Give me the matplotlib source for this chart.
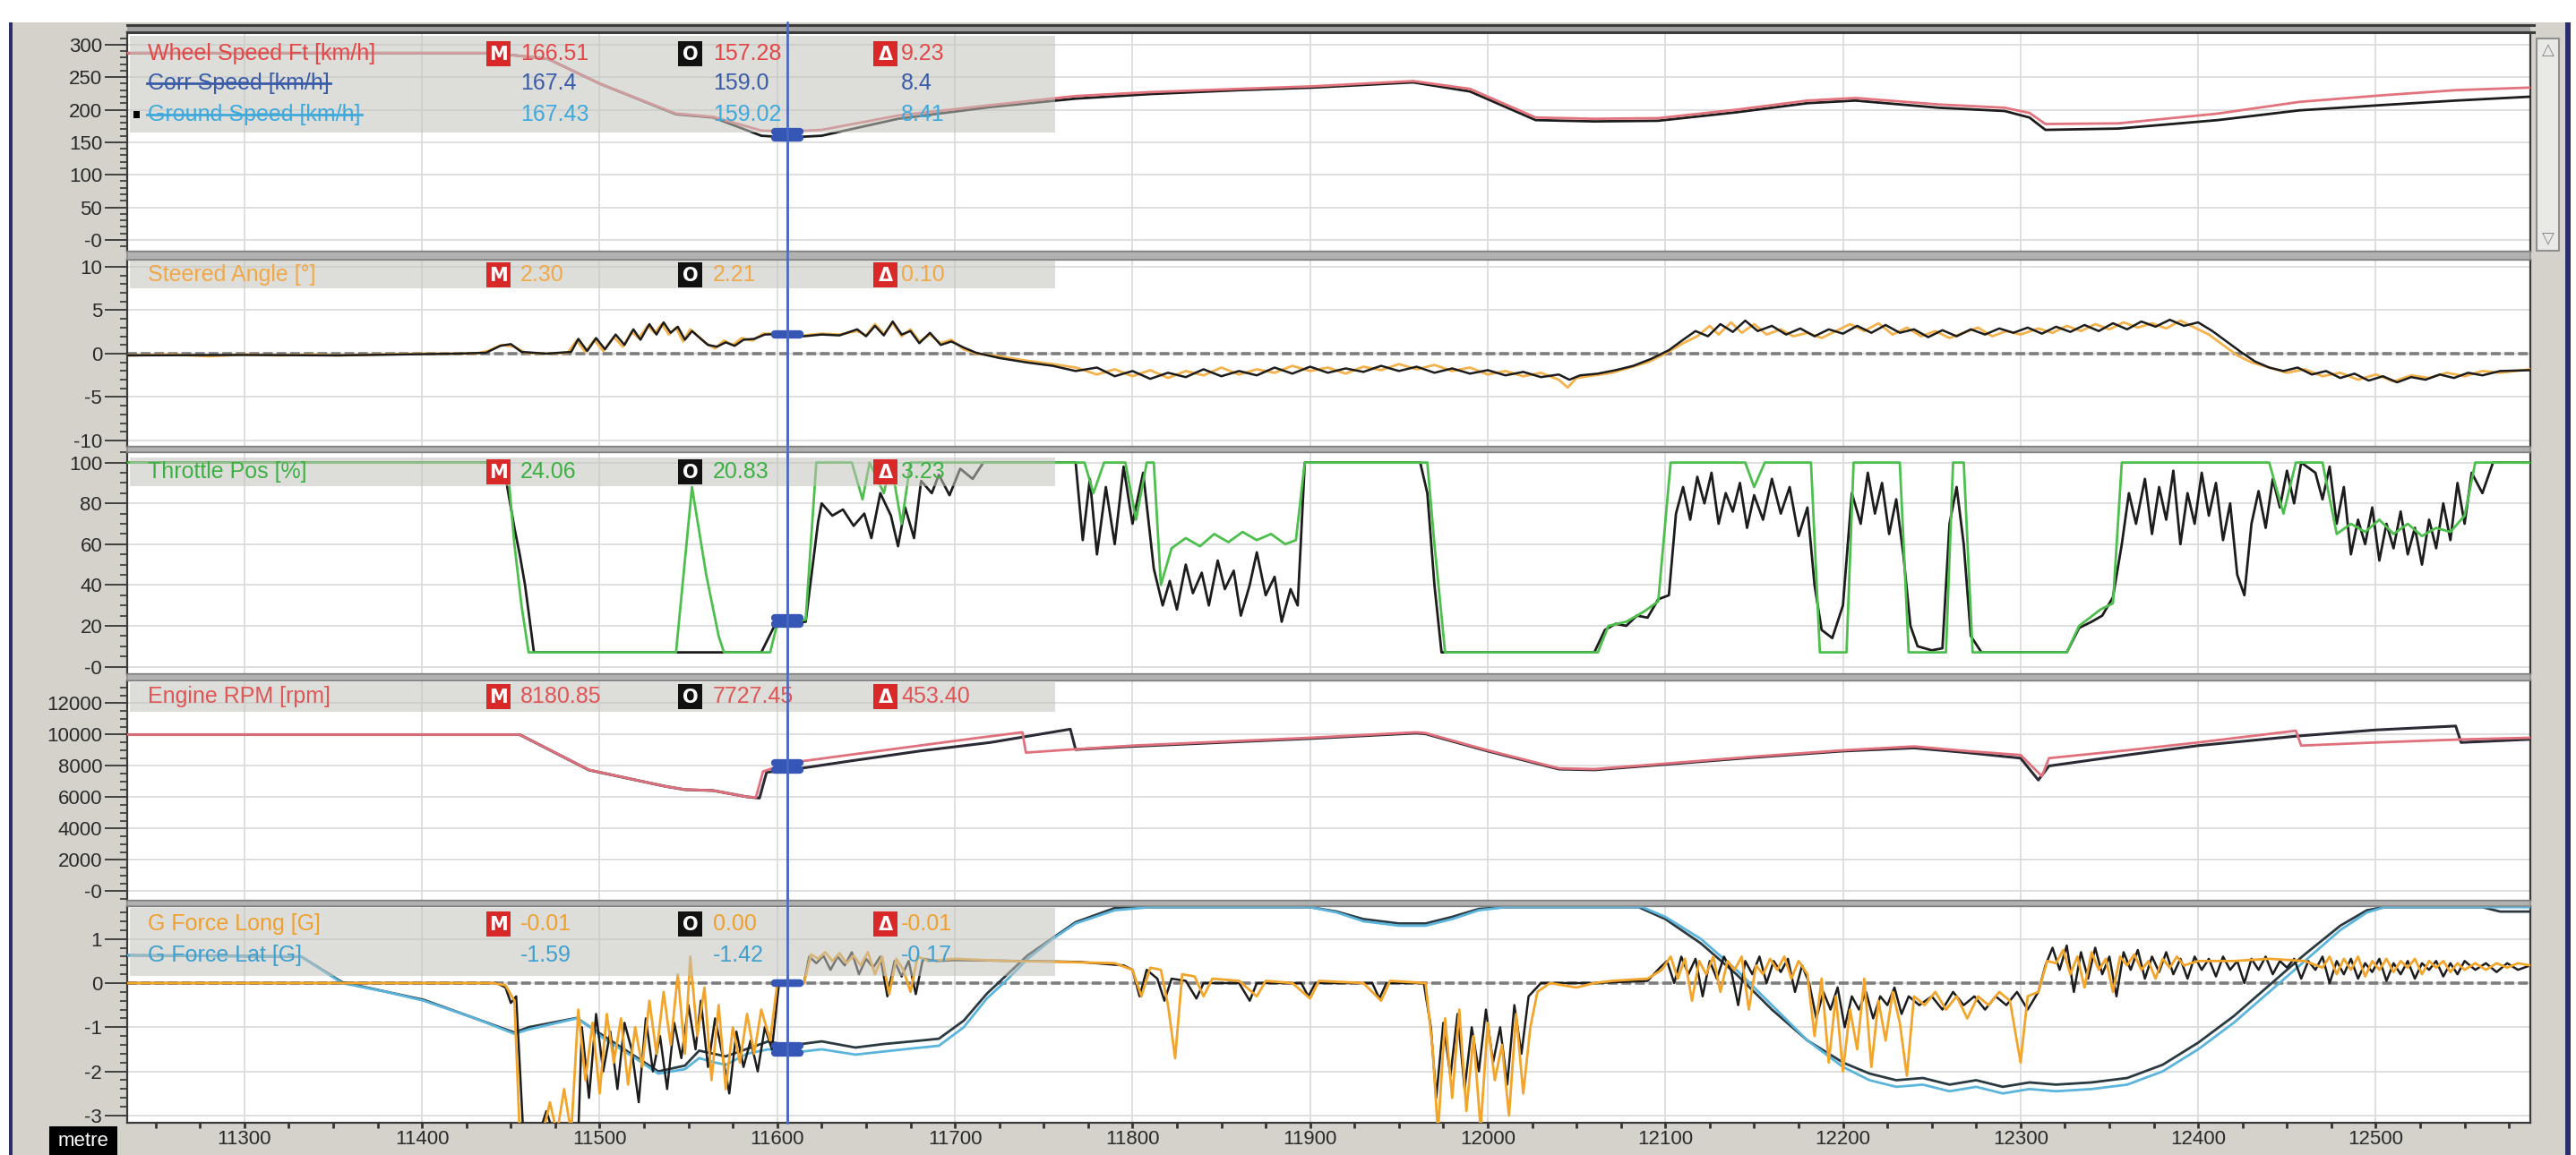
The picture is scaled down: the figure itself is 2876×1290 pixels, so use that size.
import matplotlib
matplotlib.use('Agg')
import matplotlib.pyplot as plt
from matplotlib import font_manager
from matplotlib.patches import Rectangle
from matplotlib.lines import Line2D
from matplotlib.transforms import Affine2D
from matplotlib.ticker import MultipleLocator, FixedLocator, FixedFormatter

# ---------------- DATA (distance in metres) ----------------
cursor_x = 11605.6

speed_x = [11234, 11440, 11471, 11500, 11543, 11564, 11591, 11606, 11625, 11668, 11720, 11768, 11810,
           11860, 11902, 11958, 11990, 12027, 12060, 12096, 12140, 12180, 12207, 12254, 12291, 12305,
           12314, 12355, 12411, 12457, 12503, 12545, 12587]
speed_main = [287, 287, 278, 240, 194, 189, 168, 166.5, 169, 191, 207, 221, 227, 232, 236, 244, 232, 188,
              186, 187, 200, 214, 218, 208, 203, 195, 178, 179, 194, 212, 222, 230, 234]
speed_ref = [287, 287, 278, 240, 193, 188, 160, 157.3, 160, 186, 204, 217, 224, 230, 234, 242, 228, 184,
             182, 183, 196, 210, 214, 203, 198, 188, 169, 171, 184, 199, 207, 214, 220]

steer_main = [(11234, -0.2), (11260, -0.1), (11280, -0.3), (11300, -0.1), (11320, -0.2), (11340, -0.1),
              (11352, -0.2), (11400, 0), (11430, 0), (11437, 0.3), (11445, 1.0), (11452, 0.8), (11458, 0.1),
              (11470, 0), (11482, 0.1), (11487, 1.5), (11492, 0.2), (11497, 1.6), (11502, 0.3), (11508, 1.9),
              (11513, 0.8), (11518, 2.5), (11522, 1.8), (11527, 3.2), (11531, 2.4), (11535, 3.4), (11539, 2.2),
              (11543, 3.0), (11547, 1.4), (11551, 2.8), (11556, 1.9), (11560, 1.2), (11565, 0.6), (11570, 1.5),
              (11575, 1.0), (11580, 1.8), (11586, 1.5), (11592, 2.3), (11600, 2.3), (11606, 2.3), (11615, 2.1),
              (11625, 2.3), (11635, 2.2), (11645, 2.6), (11650, 2.1), (11655, 3.4), (11660, 2.3), (11665, 3.5),
              (11670, 2.0), (11675, 2.8), (11680, 1.4), (11686, 2.2), (11692, 1.2), (11698, 1.6), (11705, 0.5),
              (11712, 0.0), (11725, -0.3), (11740, -0.8), (11755, -1.2), (11768, -1.6), (11780, -2.4),
              (11790, -1.8), (11800, -2.6), (11810, -1.9), (11820, -2.8), (11830, -2.0), (11840, -2.5),
              (11850, -1.6), (11860, -2.4), (11870, -1.8), (11880, -2.2), (11890, -1.4), (11900, -2.0),
              (11910, -1.6), (11920, -2.3), (11930, -1.5), (11940, -1.9), (11950, -1.2), (11960, -1.8),
              (11970, -1.3), (11980, -2.0), (11990, -1.6), (12000, -2.4), (12010, -2.0), (12020, -2.6),
              (12030, -2.2), (12040, -3.0), (12045, -3.9), (12050, -2.8), (12060, -2.5), (12070, -2.2),
              (12080, -1.6), (12090, -1.0), (12100, 0.0), (12110, 1.2), (12118, 2.0), (12125, 3.2), (12130, 2.2),
              (12137, 3.6), (12143, 2.4), (12150, 3.4), (12157, 2.2), (12165, 2.8), (12172, 2.0), (12180, 2.4),
              (12188, 1.8), (12196, 2.6), (12204, 3.4), (12212, 2.6), (12220, 3.5), (12228, 2.2), (12236, 3.0),
              (12244, 2.0), (12252, 2.6), (12260, 1.8), (12268, 2.4), (12276, 3.0), (12284, 2.0), (12292, 2.6),
              (12300, 2.2), (12310, 2.9), (12318, 2.4), (12326, 3.2), (12334, 2.6), (12342, 3.4), (12350, 2.8),
              (12358, 3.6), (12366, 3.0), (12374, 3.5), (12382, 2.9), (12390, 3.8), (12398, 3.0), (12406, 2.2),
              (12414, 1.0), (12422, -0.2), (12430, -1.0), (12440, -1.6), (12450, -2.2), (12460, -1.8),
              (12470, -2.6), (12480, -2.2), (12490, -3.0), (12500, -2.4), (12510, -3.2), (12520, -2.5),
              (12530, -2.8), (12540, -2.2), (12550, -2.6), (12560, -2.0), (12570, -2.2), (12587, -1.8)]

steer_ref = [(11234, -0.2), (11300, -0.15), (11352, -0.2), (11420, 0), (11436, 0.1), (11444, 0.9), (11450, 1.1),
             (11456, 0.2), (11470, 0), (11484, 0.2), (11488, 1.7), (11493, 0.3), (11498, 1.8), (11503, 0.5),
             (11509, 2.2), (11514, 1.0), (11519, 2.8), (11523, 1.6), (11528, 3.4), (11532, 2.2), (11536, 3.6),
             (11540, 2.4), (11544, 3.1), (11548, 1.6), (11552, 2.6), (11557, 1.7), (11561, 1.0), (11566, 0.8),
             (11571, 1.3), (11576, 0.9), (11581, 1.6), (11587, 1.7), (11593, 2.2), (11600, 2.25), (11606, 2.21),
             (11615, 2.0), (11625, 2.2), (11635, 2.1), (11645, 2.8), (11650, 2.0), (11655, 3.2), (11660, 2.1),
             (11665, 3.7), (11670, 2.2), (11675, 2.6), (11680, 1.2), (11686, 2.4), (11692, 1.0), (11698, 1.4),
             (11705, 0.7), (11712, 0.1), (11725, -0.5), (11740, -1.0), (11755, -1.4), (11768, -2.0),
             (11780, -1.6), (11790, -2.6), (11800, -2.0), (11810, -2.9), (11820, -2.2), (11830, -2.7),
             (11840, -1.8), (11850, -2.6), (11860, -2.0), (11870, -2.5), (11880, -1.6), (11890, -2.3),
             (11900, -1.5), (11910, -2.2), (11920, -1.7), (11930, -2.1), (11940, -1.4), (11950, -2.0),
             (11960, -1.5), (11970, -2.2), (11980, -1.7), (11990, -2.3), (12000, -1.9), (12010, -2.5),
             (12020, -2.1), (12030, -2.7), (12040, -2.4), (12046, -3.0), (12052, -2.5), (12062, -2.3),
             (12072, -1.9), (12082, -1.4), (12092, -0.6), (12102, 0.4), (12110, 1.6), (12117, 2.6), (12124, 2.0),
             (12131, 3.4), (12138, 2.5), (12145, 3.8), (12152, 2.6), (12160, 3.2), (12168, 2.2), (12176, 2.9),
             (12184, 2.0), (12192, 2.8), (12200, 2.3), (12208, 3.2), (12216, 2.4), (12224, 3.3), (12232, 2.4),
             (12240, 2.8), (12248, 1.9), (12256, 2.7), (12264, 2.0), (12272, 2.8), (12280, 2.2), (12288, 2.9),
             (12296, 2.4), (12304, 3.0), (12312, 2.3), (12320, 3.1), (12328, 2.5), (12336, 3.3), (12344, 2.6),
             (12352, 3.5), (12360, 2.8), (12368, 3.7), (12376, 3.1), (12384, 3.9), (12392, 3.2), (12400, 3.6),
             (12408, 2.6), (12416, 1.4), (12424, 0.2), (12432, -0.9), (12440, -1.6), (12448, -2.0),
             (12456, -1.6), (12464, -2.4), (12472, -2.0), (12480, -2.8), (12488, -2.3), (12496, -3.1),
             (12504, -2.6), (12512, -3.3), (12520, -2.7), (12528, -3.0), (12536, -2.4), (12544, -2.8),
             (12552, -2.2), (12560, -2.5), (12570, -2.0), (12587, -1.9)]

throttle_main = [(11234, 100), (11448, 100), (11452, 60), (11456, 30), (11460, 7), (11543, 7), (11552, 88),
                 (11560, 45), (11567, 15), (11570, 7), (11596, 7), (11600, 21), (11616, 23), (11622, 100),
                 (11642, 100), (11648, 82), (11652, 100), (11660, 85), (11664, 100), (11670, 70), (11675, 100),
                 (11773, 100), (11778, 85), (11784, 100), (11796, 100), (11802, 72), (11808, 100), (11812, 100),
                 (11816, 40), (11822, 58), (11830, 63), (11838, 59), (11846, 65), (11854, 61), (11862, 66),
                 (11870, 62), (11878, 65), (11886, 60), (11892, 62), (11897, 100), (11966, 100), (11970, 60),
                 (11976, 7), (12062, 7), (12068, 20), (12078, 22), (12088, 27), (12096, 32), (12103, 100),
                 (12145, 100), (12150, 88), (12156, 100), (12182, 100), (12187, 7), (12202, 7), (12206, 100),
                 (12232, 100), (12237, 7), (12258, 7), (12262, 100), (12268, 100), (12273, 7), (12326, 7),
                 (12333, 20), (12345, 28), (12352, 31), (12357, 100), (12440, 100), (12448, 75), (12455, 100),
                 (12470, 100), (12478, 65), (12486, 70), (12494, 66), (12502, 72), (12510, 65), (12518, 70),
                 (12526, 64), (12534, 68), (12542, 66), (12550, 74), (12556, 100), (12587, 100)]

throttle_ref = [(11234, 100), (11446, 100), (11448, 88), (11452, 68), (11455, 55), (11458, 40), (11463, 7),
                (11591, 7), (11599, 21), (11616, 22), (11623, 71), (11625, 80), (11631, 74), (11637, 77),
                (11643, 69), (11649, 75), (11653, 63), (11658, 85), (11664, 74), (11668, 59), (11672, 78),
                (11677, 63), (11681, 91), (11687, 85), (11691, 94), (11697, 84), (11703, 97), (11710, 92),
                (11716, 100), (11768, 100), (11772, 62), (11776, 92), (11780, 55), (11785, 88), (11790, 60),
                (11795, 98), (11800, 70), (11806, 95), (11812, 48), (11817, 30), (11821, 42), (11825, 28),
                (11830, 50), (11834, 36), (11839, 46), (11843, 30), (11848, 52), (11852, 38), (11857, 47),
                (11861, 25), (11866, 40), (11870, 56), (11875, 35), (11880, 44), (11884, 22), (11889, 38),
                (11893, 30), (11897, 100), (11962, 100), (11966, 85), (11970, 40), (11974, 7), (12060, 7),
                (12066, 18), (12072, 21), (12078, 20), (12084, 25), (12090, 24), (12096, 33), (12102, 35),
                (12106, 75), (12110, 88), (12114, 72), (12118, 93), (12122, 80), (12126, 95), (12130, 70),
                (12134, 85), (12138, 76), (12142, 90), (12146, 68), (12150, 84), (12155, 72), (12160, 92),
                (12165, 75), (12170, 88), (12175, 64), (12180, 78), (12184, 40), (12188, 18), (12194, 14),
                (12200, 30), (12205, 85), (12210, 70), (12214, 95), (12218, 75), (12222, 90), (12226, 65),
                (12230, 82), (12234, 55), (12238, 20), (12242, 10), (12250, 8), (12256, 9), (12260, 70),
                (12264, 88), (12268, 60), (12272, 15), (12278, 7), (12326, 7), (12333, 19), (12340, 22),
                (12346, 25), (12352, 34), (12357, 60), (12361, 85), (12365, 70), (12370, 92), (12374, 65),
                (12378, 88), (12382, 72), (12386, 96), (12390, 60), (12394, 85), (12398, 70), (12402, 95),
                (12406, 74), (12410, 90), (12414, 62), (12418, 80), (12422, 45), (12426, 35), (12430, 70),
                (12434, 86), (12438, 68), (12442, 92), (12446, 78), (12450, 96), (12454, 80), (12458, 100),
                (12466, 95), (12470, 82), (12474, 98), (12478, 70), (12482, 88), (12486, 55), (12490, 72),
                (12494, 60), (12498, 78), (12502, 52), (12506, 70), (12510, 58), (12514, 76), (12518, 55),
                (12522, 68), (12526, 50), (12530, 72), (12534, 58), (12538, 80), (12542, 62), (12546, 90),
                (12550, 70), (12554, 95), (12560, 85), (12566, 100), (12587, 100)]

rpm_main = [(11234, 10000), (11455, 10000), (11494, 7750), (11537, 6700), (11548, 6500), (11564, 6430),
            (11583, 6030), (11588, 6000), (11592, 7650), (11606, 8180), (11640, 8700), (11680, 9300),
            (11710, 9750), (11738, 10150), (11740, 8850), (11765, 9050), (11800, 9300), (11850, 9550),
            (11900, 9800), (11960, 10150), (11965, 10100), (12000, 9000), (12040, 7850), (12060, 7800),
            (12100, 8150), (12150, 8600), (12200, 9000), (12240, 9250), (12270, 8950), (12300, 8700),
            (12312, 7350), (12316, 8500), (12360, 9000), (12400, 9500), (12455, 10250), (12458, 9300),
            (12500, 9500), (12550, 9700), (12587, 9800)]
rpm_ref = [(11234, 10000), (11455, 10000), (11494, 7740), (11537, 6700), (11548, 6490), (11564, 6430),
           (11583, 6030), (11590, 5950), (11594, 7600), (11606, 7727), (11640, 8300), (11680, 8950),
           (11720, 9500), (11765, 10350), (11768, 9050), (11800, 9250), (11850, 9500), (11900, 9750),
           (11960, 10100), (11965, 10050), (12000, 8950), (12040, 7800), (12060, 7750), (12100, 8100),
           (12150, 8550), (12200, 8950), (12240, 9150), (12270, 8850), (12300, 8500), (12310, 7100),
           (12316, 8000), (12360, 8700), (12400, 9300), (12455, 9900), (12500, 10300), (12545, 10550),
           (12548, 9500), (12587, 9700)]

glat_main = [(11234, 0.63), (11332, 0.6), (11355, 0.0), (11380, -0.2), (11401, -0.4), (11430, -0.8),
             (11452, -1.15), (11460, -1.05), (11487, -0.8), (11495, -1.0), (11502, -1.25), (11520, -1.7),
             (11533, -2.05), (11548, -1.95), (11556, -1.7), (11565, -1.8), (11571, -1.85), (11583, -1.6),
             (11595, -1.5), (11606, -1.59), (11625, -1.5), (11644, -1.62), (11660, -1.55), (11676, -1.48),
             (11691, -1.42), (11705, -1.0), (11718, -0.35), (11730, 0.1), (11741, 0.55), (11755, 1.0),
             (11768, 1.35), (11790, 1.65), (11810, 1.72), (11900, 1.72), (11915, 1.6), (11930, 1.4),
             (11950, 1.3), (11965, 1.3), (11980, 1.45), (11995, 1.65), (12010, 1.72), (12087, 1.72),
             (12100, 1.5), (12120, 1.0), (12140, 0.3), (12160, -0.5), (12180, -1.3), (12200, -1.9),
             (12215, -2.2), (12230, -2.35), (12245, -2.3), (12260, -2.45), (12275, -2.35), (12290, -2.5),
             (12305, -2.4), (12320, -2.45), (12340, -2.4), (12360, -2.3), (12380, -2.0), (12400, -1.5),
             (12420, -0.9), (12440, -0.2), (12460, 0.5), (12480, 1.2), (12495, 1.6), (12505, 1.72), (12587, 1.72)]
glat_ref = [(11234, 0.63), (11332, 0.6), (11355, 0.02), (11401, -0.38), (11452, -1.12), (11460, -1.0),
            (11487, -0.79), (11502, -1.19), (11533, -2.0), (11548, -1.87), (11556, -1.53), (11571, -1.66),
            (11595, -1.32), (11606, -1.42), (11625, -1.32), (11644, -1.46), (11660, -1.38), (11676, -1.32),
            (11691, -1.26), (11705, -0.85), (11718, -0.24), (11741, 0.63), (11768, 1.38), (11790, 1.7),
            (11810, 1.72), (11900, 1.72), (11915, 1.62), (11930, 1.45), (11950, 1.35), (11965, 1.35),
            (11980, 1.5), (11995, 1.68), (12010, 1.72), (12085, 1.72), (12100, 1.45), (12120, 0.9),
            (12140, 0.2), (12160, -0.6), (12180, -1.3), (12200, -1.8), (12215, -2.05), (12230, -2.2),
            (12245, -2.15), (12260, -2.3), (12275, -2.2), (12290, -2.35), (12305, -2.25), (12320, -2.3),
            (12340, -2.25), (12360, -2.15), (12380, -1.85), (12400, -1.35), (12420, -0.75), (12440, -0.05),
            (12460, 0.65), (12480, 1.3), (12495, 1.65), (12505, 1.72), (12560, 1.72), (12570, 1.62),
            (12587, 1.62)]

glong_main = [(11234, 0), (11440, 0), (11447, -0.05), (11452, -0.4), (11455, -3.4), (11468, -3.4), (11472, -2.7),
              (11476, -3.4), (11480, -2.4), (11484, -3.4), (11488, -0.6), (11492, -2.2), (11496, -0.9),
              (11500, -2.5), (11504, -0.7), (11508, -1.8), (11512, -0.8), (11516, -2.3), (11520, -1.0),
              (11524, -1.9), (11528, -0.4), (11532, -1.6), (11536, -0.2), (11540, -1.4), (11544, 0.2),
              (11548, -1.6), (11551, 0.6), (11555, -1.2), (11559, -0.1), (11563, -2.2), (11567, -0.5),
              (11571, -2.4), (11575, -1.0), (11579, -1.8), (11583, -0.7), (11587, -1.6), (11591, -0.6),
              (11596, -1.3), (11600, -0.01), (11615, -0.01), (11619, 0.65), (11623, 0.55), (11627, 0.7),
              (11631, 0.5), (11635, 0.68), (11639, 0.45), (11643, 0.62), (11647, 0.4), (11651, 0.7),
              (11655, 0.2), (11659, 0.6), (11663, -0.25), (11667, 0.55), (11671, 0.3), (11675, -0.2),
              (11679, 0.6), (11685, 0.5), (11700, 0.55), (11730, 0.5), (11760, 0.48), (11790, 0.45),
              (11800, 0.3), (11805, -0.3), (11810, 0.35), (11816, 0.3), (11820, -0.5), (11824, -1.7),
              (11828, 0.2), (11835, 0.15), (11840, -0.3), (11845, 0.1), (11860, 0.05), (11870, -0.3),
              (11875, 0.05), (11890, 0.0), (11900, -0.35), (11905, 0.05), (11930, 0.0), (11940, -0.4),
              (11945, 0.05), (11965, 0.0), (11969, -1.5), (11972, -3.4), (11976, -0.8), (11980, -2.6),
              (11984, -0.6), (11988, -2.9), (11992, -1.2), (11996, -3.3), (12000, -0.9), (12004, -2.2),
              (12008, -1.4), (12012, -3.0), (12016, -0.7), (12020, -2.5), (12024, -1.0), (12028, -0.2),
              (12035, 0.0), (12050, -0.1), (12060, 0.0), (12070, 0.05), (12090, 0.1), (12098, 0.3),
              (12103, 0.6), (12107, 0.1), (12111, 0.55), (12115, -0.4), (12119, 0.5), (12123, 0.2),
              (12127, 0.6), (12131, -0.2), (12135, 0.5), (12139, 0.3), (12143, 0.6), (12147, -0.6),
              (12151, 0.4), (12155, 0.2), (12159, 0.55), (12163, 0.3), (12167, 0.6), (12171, 0.1),
              (12175, 0.5), (12180, 0.2), (12184, -1.2), (12188, 0.1), (12192, -1.8), (12196, -0.3),
              (12200, -2.0), (12204, -0.6), (12208, -1.5), (12212, 0.1), (12216, -1.9), (12220, -0.4),
              (12224, -1.3), (12228, -0.2), (12232, -0.9), (12236, -2.1), (12240, -0.3), (12246, -0.5),
              (12252, -0.2), (12258, -0.6), (12264, -0.3), (12270, -0.8), (12276, -0.3), (12282, -0.5),
              (12288, -0.2), (12294, -0.4), (12300, -1.8), (12304, -0.3), (12310, -0.2), (12315, 0.5),
              (12320, 0.45), (12324, 0.75), (12328, 0.2), (12332, 0.6), (12336, -0.1), (12340, 0.7),
              (12344, 0.3), (12348, 0.55), (12352, -0.2), (12356, 0.6), (12360, 0.4), (12364, 0.65),
              (12368, 0.3), (12372, 0.5), (12376, 0.1), (12380, 0.55), (12384, 0.35), (12388, 0.6),
              (12392, 0.4), (12400, 0.5), (12410, 0.5), (12420, 0.5), (12440, 0.55), (12460, 0.5),
              (12470, 0.35), (12474, 0.6), (12478, 0.2), (12482, 0.55), (12486, 0.3), (12490, 0.6),
              (12494, 0.15), (12498, 0.5), (12502, 0.3), (12506, 0.55), (12510, 0.25), (12514, 0.5),
              (12518, 0.35), (12522, 0.55), (12526, 0.2), (12530, 0.5), (12534, 0.35), (12538, 0.5),
              (12542, 0.25), (12546, 0.45), (12550, 0.3), (12556, 0.45), (12562, 0.3), (12568, 0.45),
              (12574, 0.35), (12580, 0.45), (12587, 0.4)]
glong_ref = [(11234, 0), (11442, 0), (11447, -0.1), (11450, -0.45), (11453, -0.3), (11457, -3.4), (11466, -3.4),
             (11470, -2.9), (11474, -3.4), (11488, -3.4), (11490, -1.0), (11494, -2.6), (11498, -0.7),
             (11502, -2.0), (11506, -1.1), (11510, -2.4), (11514, -0.9), (11518, -1.5), (11522, -2.7),
             (11526, -0.8), (11530, -2.0), (11534, -1.2), (11538, -2.4), (11542, -0.9), (11546, -1.7),
             (11550, -0.5), (11554, -1.5), (11557, -0.4), (11561, -1.9), (11565, -0.8), (11569, -1.6),
             (11573, -2.5), (11577, -1.1), (11581, -1.9), (11585, -1.3), (11589, -2.0), (11593, -1.0),
             (11597, -1.5), (11601, 0.0), (11615, 0.0), (11618, 0.6), (11622, 0.45), (11626, 0.62),
             (11630, 0.3), (11634, 0.6), (11638, 0.4), (11642, 0.7), (11646, 0.2), (11650, 0.55),
             (11654, 0.35), (11658, 0.6), (11662, -0.3), (11666, 0.5), (11670, 0.15), (11674, 0.5),
             (11678, -0.25), (11682, 0.55), (11690, 0.5), (11700, 0.52), (11740, 0.5), (11770, 0.48),
             (11795, 0.4), (11800, 0.3), (11804, -0.3), (11808, 0.3), (11814, 0.1), (11818, -0.4),
             (11822, 0.1), (11830, 0.05), (11836, -0.35), (11840, 0.0), (11860, 0.0), (11866, -0.4),
             (11870, 0.0), (11895, 0.0), (11899, -0.3), (11903, 0.0), (11935, 0.0), (11939, -0.35),
             (11943, 0.0), (11964, 0.0), (11968, -1.0), (11971, -2.6), (11975, -0.9), (11979, -2.1),
             (11983, -0.7), (11987, -2.4), (11991, -1.0), (11995, -2.0), (11999, -0.6), (12003, -1.8),
             (12007, -1.0), (12011, -2.3), (12015, -0.5), (12019, -1.6), (12023, -0.3), (12030, 0.0),
             (12060, 0.0), (12090, 0.05), (12097, 0.35), (12101, 0.5), (12105, 0.0), (12109, 0.6),
             (12113, 0.2), (12117, 0.55), (12121, -0.3), (12125, 0.5), (12129, 0.1), (12133, 0.6),
             (12137, 0.3), (12141, -0.5), (12145, 0.5), (12149, 0.2), (12153, 0.6), (12157, 0.0),
             (12161, 0.5), (12165, 0.25), (12169, 0.55), (12173, -0.2), (12177, 0.4), (12181, 0.0),
             (12185, -0.8), (12189, -0.2), (12193, -0.6), (12197, -0.1), (12201, -1.0), (12205, -0.3),
             (12209, -0.6), (12213, -0.2), (12217, -0.8), (12221, -0.3), (12225, -0.5), (12229, -0.1),
             (12233, -0.7), (12237, -0.3), (12243, -0.5), (12250, -0.3), (12256, -0.6), (12262, -0.2),
             (12268, -0.5), (12274, -0.3), (12280, -0.6), (12286, -0.3), (12292, -0.5), (12298, -0.2),
             (12304, -0.6), (12310, -0.2), (12314, 0.4), (12318, 0.8), (12322, 0.3), (12326, 0.85),
             (12330, -0.2), (12334, 0.7), (12338, 0.1), (12342, 0.8), (12346, 0.2), (12350, 0.6),
             (12354, -0.3), (12358, 0.7), (12362, 0.3), (12366, 0.75), (12370, 0.1), (12374, 0.6),
             (12378, 0.25), (12382, 0.7), (12386, 0.2), (12390, 0.55), (12394, 0.1), (12398, 0.6),
             (12402, 0.3), (12406, 0.55), (12410, 0.15), (12414, 0.6), (12418, 0.3), (12422, 0.5),
             (12426, 0.0), (12430, 0.55), (12434, 0.3), (12438, 0.6), (12442, 0.2), (12446, 0.5),
             (12450, 0.35), (12454, 0.55), (12458, 0.1), (12462, 0.5), (12466, 0.3), (12470, 0.6),
             (12474, 0.0), (12478, 0.5), (12482, 0.2), (12486, 0.55), (12490, 0.1), (12494, 0.45),
             (12498, 0.25), (12502, 0.55), (12506, 0.05), (12510, 0.45), (12514, 0.2), (12518, 0.5),
             (12522, 0.1), (12526, 0.45), (12530, 0.3), (12534, 0.5), (12538, 0.15), (12542, 0.45),
             (12546, 0.2), (12550, 0.5), (12556, 0.3), (12562, 0.45), (12568, 0.25), (12574, 0.45),
             (12580, 0.3), (12587, 0.4)]

# legend rows: (name, main value, overlay value, delta)
legend_speed = [("Wheel Speed Ft [km/h]", "166.51", "157.28", "9.23"),
                ("Corr Speed [km/h]", "167.4", "159.0", "8.4"),
                ("Ground Speed [km/h]", "167.43", "159.02", "8.41")]
legend_steer = [("Steered Angle [°]", "2.30", "2.21", "0.10")]
legend_throttle = [("Throttle Pos [%]", "24.06", "20.83", "3.23")]
legend_rpm = [("Engine RPM [rpm]", "8180.85", "7727.45", "453.40")]
legend_g = [("G Force Long [G]", "-0.01", "0.00", "-0.01"),
            ("G Force Lat [G]", "-1.59", "-1.42", "-0.17")]
cursor_values = [(166.51, 157.28), (2.30, 2.21), (24.06, 20.83), (8180.85, 7727.45), (-0.01, 0.00), (-1.59, -1.42)]

y_ticks = [[0, 50, 100, 150, 200, 250, 300], [-10, -5, 0, 5, 10], [0, 20, 40, 60, 80, 100],
           [0, 2000, 4000, 6000, 8000, 10000, 12000], [-3, -2, -1, 0, 1]]
y_tick_labels = [['-0', '50', '100', '150', '200', '250', '300'], ['-10', '-5', '0', '5', '10'],
                 ['-0', '20', '40', '60', '80', '100'],
                 ['-0', '2000', '4000', '6000', '8000', '10000', '12000'], ['-3', '-2', '-1', '0', '1']]
y_minor = [10, 1, 5, 500, 0.2]

# ---------------- STYLE / LAYOUT ----------------
names = {f.name for f in font_manager.fontManager.ttflist}
if 'Liberation Sans Narrow' in names:
    LEG_FONT, LEG_SIZE = ['Liberation Sans Narrow', 'DejaVu Sans'], 22
else:
    LEG_FONT, LEG_SIZE = ['Liberation Sans', 'DejaVu Sans'], 18
plt.rcParams['font.family'] = ['Liberation Sans', 'DejaVu Sans']

W, H = 2876, 1290
fig = plt.figure(figsize=(W / 100, H / 100), dpi=100)
fig.patch.set_facecolor('#d5d2cb')
PX = Affine2D().scale(1.0 / W, -1.0 / H).translate(0, 1) + fig.transFigure

LEFT, RIGHT = 142, 2825
PANELS = [(36, 281), (290, 499), (505, 753), (760, 1006), (1012, 1254)]
YLIMS = [(-18, 319), (-10.72, 10.82), (-3.7, 105.1), (-600, 13457), (-3.164, 1.744)]
XLIM = (11234, 12587)
BLACK = '#1c1c1c'
TICKC = '#353535'

axes = []
for i, ((t, b), yl) in enumerate(zip(PANELS, YLIMS)):
    ax = fig.add_axes([LEFT / W, 1 - b / H, (RIGHT - LEFT) / W, (b - t) / H])
    ax.set_xlim(*XLIM)
    ax.set_ylim(*yl)
    ax.set_facecolor('white')
    ax.set_axisbelow(True)
    ax.xaxis.set_major_locator(MultipleLocator(100))
    ax.xaxis.set_minor_locator(MultipleLocator(25))
    ax.yaxis.set_major_locator(FixedLocator(y_ticks[i]))
    ax.yaxis.set_major_formatter(FixedFormatter(y_tick_labels[i]))
    ax.yaxis.set_minor_locator(MultipleLocator(y_minor[i]))
    ax.grid(True, which='major', color='#dcdcdc', lw=1.3)
    ax.tick_params(axis='y', which='major', direction='out', length=18, width=1.3, color=TICKC,
                   labelsize=16, labelcolor='#2a2a2a', pad=2)
    ax.tick_params(axis='y', which='minor', direction='out', length=6, width=1.2, color=TICKC)
    if i < 4:
        ax.tick_params(axis='x', which='both', bottom=False, labelbottom=False)
    else:
        ax.tick_params(axis='x', which='both', direction='out', length=4.5, width=2, color=TICKC,
                       labelsize=16, labelcolor='#2a2a2a', pad=1.5)
    for s in ax.spines.values():
        s.set_color('#3a3a3a')
        s.set_linewidth(1.6)
    ax.axvline(cursor_x, color='#4a68c0', lw=1.8, zorder=4)
    axes.append(ax)

ax1, ax2, ax3, ax4, ax5 = axes

# zero reference lines
for ax in (ax2, ax5):
    ax.axhline(0, color='#7d7d7d', lw=2.6, ls=(0, (3, 1.2)), zorder=1.5)


def xy(points):
    xs, ys = zip(*points)
    return xs, ys


# speed
ax1.plot(speed_x, speed_ref, color=BLACK, lw=2, zorder=3)
ax1.plot(speed_x, speed_main, color='#e2737c', lw=2, zorder=3.1)
# steering
ax2.plot(*xy(steer_main), color='#f4b24c', lw=2, zorder=3)
ax2.plot(*xy(steer_ref), color=BLACK, lw=1.8, zorder=3.1)
# throttle
ax3.plot(*xy(throttle_ref), color=BLACK, lw=2, zorder=3)
ax3.plot(*xy(throttle_main), color='#4cbf4c', lw=2, zorder=3.1)
# rpm
ax4.plot(*xy(rpm_ref), color='#2a2a35', lw=2.2, zorder=3)
ax4.plot(*xy(rpm_main), color='#e0707c', lw=2, zorder=3.1)
# g forces
ax5.plot(*xy(glat_ref), color='#2a3a40', lw=2, zorder=3)
ax5.plot(*xy(glat_main), color='#5ab4dc', lw=2, zorder=3.1)
ax5.plot(*xy(glong_ref), color=BLACK, lw=1.8, zorder=3.2)
ax5.plot(*xy(glong_main), color='#f2a52a', lw=2, zorder=3.3)

# cursor marks
for ax, vals in zip([ax1, ax2, ax3, ax4, ax5, ax5], cursor_values):
    for v in vals:
        ax.plot([cursor_x - 7, cursor_x + 7], [v, v], color='#3556b4', lw=6,
                solid_capstyle='round', zorder=5)

# ---------------- frame decorations ----------------
fig.add_artist(Rectangle((0, 0), W, 25, transform=PX, fc='white', ec='none', zorder=0.5))
fig.add_artist(Rectangle((0, 0), 10, H, transform=PX, fc='white', ec='none', zorder=0.5))
fig.add_artist(Rectangle((10, 25), 4, H, transform=PX, fc='#2b2f6b', ec='none', zorder=0.6))
fig.add_artist(Rectangle((2870, 0), 6, H, transform=PX, fc='white', ec='none', zorder=0.5))
fig.add_artist(Rectangle((2864, 25), 6, H, transform=PX, fc='#2b2f6b', ec='none', zorder=0.6))
# top border
fig.add_artist(Rectangle((LEFT, 27), RIGHT - LEFT, 9, transform=PX, fc='#a2a2a2', ec='none', zorder=1))
fig.add_artist(Line2D([LEFT, RIGHT + 4], [28, 28], transform=PX, color='#3c3c3c', lw=2.2, zorder=1.1))
fig.add_artist(Line2D([LEFT, RIGHT + 4], [35.5, 35.5], transform=PX, color='#3c3c3c', lw=2.2, zorder=1.1))
# separators between panels
for (t0, b0), (t1, b1) in zip(PANELS[:-1], PANELS[1:]):
    fig.add_artist(Rectangle((LEFT, b0), RIGHT - LEFT, t1 - b0, transform=PX, fc='#b1b1b1',
                             ec='#8c8c8c', lw=1.2, zorder=1))
# cursor across separators
cx = LEFT + (cursor_x - XLIM[0]) / (XLIM[1] - XLIM[0]) * (RIGHT - LEFT)
fig.add_artist(Line2D([cx, cx], [25, PANELS[-1][1]], transform=PX, color='#4a68c0', lw=1.8, zorder=1.2))
# scrollbar
fig.add_artist(Rectangle((2832, 43), 25, 237, transform=PX, fc='#e9e9e6', ec='#8f8f8f', lw=1.5, zorder=1))
fig.text(2844.5, 56, '△', transform=PX, ha='center', va='center', fontsize=13, color='#8a8a8a',
         family='DejaVu Sans', zorder=1.3)
fig.text(2844.5, 266, '▽', transform=PX, ha='center', va='center', fontsize=13, color='#8a8a8a',
         family='DejaVu Sans', zorder=1.3)
# selected-channel square
fig.add_artist(Rectangle((149, 124), 7, 8, transform=PX, fc='black', ec='none', zorder=6))
# unit box
fig.add_artist(Rectangle((55, 1258), 76, 32, transform=PX, fc='black', ec='none', zorder=1))
fig.text(93, 1274, 'metre', transform=PX, ha='center', va='center', fontsize=16, color='white',
         family=LEG_FONT, zorder=1.3)

# ---------------- legends ----------------
legend_boxes = [(40, 148), (291, 322), (511, 543), (762, 795), (1014, 1090)]
legend_rows = [legend_speed, legend_steer, legend_throttle, legend_rpm, legend_g]
row_y = [[60, 93, 128], [307], [527], [778], [1032, 1067]]
row_colors = [['#e24848', '#3a5ca8', '#3fa9dc'], ['#f0a848'], ['#3cb043'], ['#e05555'],
              ['#f0a030', '#3fa0d0']]
strike = [[False, True, True], [False], [False], [False], [False, False]]

strike_texts = []
for ax, (bt, bb), rows, ys, cols, stk in zip(axes, legend_boxes, legend_rows, row_y, row_colors, strike):
    ax.add_patch(Rectangle((145, bt), 1033, bb - bt, transform=PX, fc='#c2c2bb', ec='none',
                           alpha=0.55, zorder=4.5, clip_on=False))
    for j, ((name, vm, vo, vd), y, c, s) in enumerate(zip(rows, ys, cols, stk)):
        t = ax.text(165, y, name, transform=PX, ha='left', va='center', fontsize=LEG_SIZE,
                    family=LEG_FONT, color=c, zorder=7, clip_on=False)
        if s:
            strike_texts.append((ax, t, c))
        for xv, v in ((581, vm), (796, vo), (1006, vd)):
            ax.text(xv, y, v, transform=PX, ha='left', va='center', fontsize=LEG_SIZE,
                    family=LEG_FONT, color=c, zorder=7, clip_on=False)
        if j == 0:
            for bx, letter, bcol in ((543, 'M', '#d82828'), (757, 'O', '#111111'), (975, 'Δ', '#d82828')):
                ax.add_patch(Rectangle((bx, y - 14), 27, 28, transform=PX, fc=bcol, ec='none',
                                       zorder=6.5, clip_on=False))
                ax.text(bx + 13.5, y + 1, letter, transform=PX, ha='center', va='center', fontsize=15,
                        family=['DejaVu Sans'], fontweight='bold', color='white', zorder=7, clip_on=False)

fig.canvas.draw()
renderer = fig.canvas.get_renderer()
for ax, t, c in strike_texts:
    bb = t.get_window_extent(renderer)
    ymid = H - (bb.y0 + bb.y1) / 2
    ax.add_line(Line2D([bb.x0 - 1, bb.x1 + 1], [ymid, ymid], transform=PX, color=c, lw=2, zorder=7,
                       clip_on=False))

fig.savefig('out.png', dpi=100, facecolor=fig.get_facecolor())
